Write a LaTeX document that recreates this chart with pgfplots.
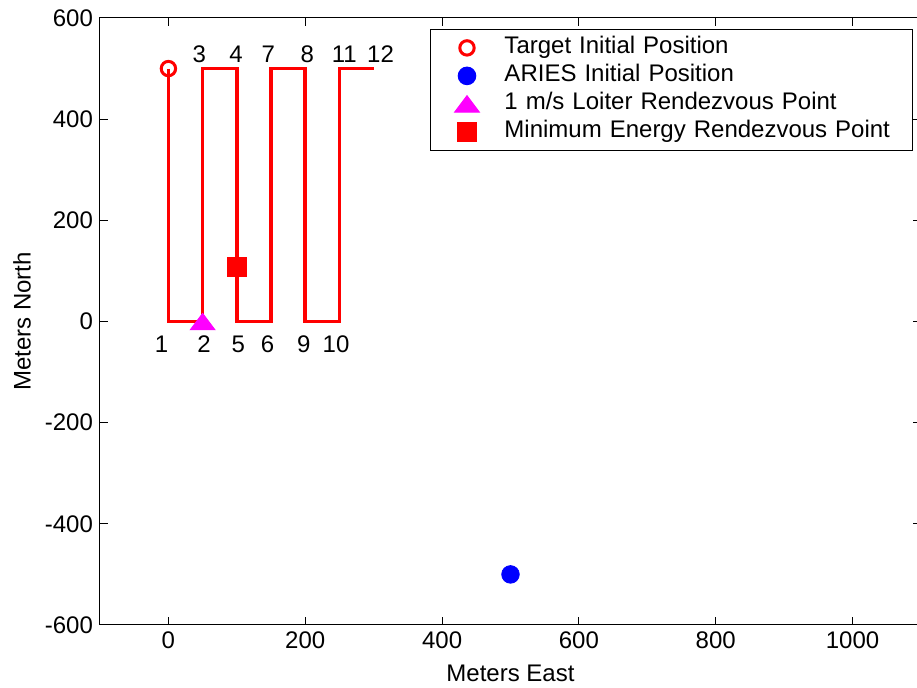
\documentclass[border=0pt]{standalone}
\usepackage{fontspec}
\setmainfont{Liberation Sans}
\usepackage{pgfplots}
\pgfplotsset{compat=1.18}
\definecolor{mred}{RGB}{255,0,0}
\definecolor{mblue}{RGB}{0,0,255}
\definecolor{mmag}{RGB}{255,0,255}
\begin{document}
\begin{tikzpicture}[font=\fontsize{12pt}{14pt}\selectfont]
\begin{axis}[
  scale only axis, width=410.5pt, height=303.5pt,
  xmin=-100, xmax=1100, ymin=-600, ymax=600,
  xtick={0,200,400,600,800,1000}, ytick={-600,-400,-200,0,200,400,600},
  tick align=inside, major tick length=4pt,
  xtick pos=both, ytick pos=both,
  xticklabel pos=bottom, yticklabel pos=left,
  /pgf/number format/assume math mode=true,
  /pgf/number format/1000 sep={},
  scaled ticks=false,
  axis line style={black, line width=0.5pt},
  every tick/.style={black, line width=0.5pt},
  xlabel={Meters East}, ylabel={Meters North},
  xlabel style={at={(axis description cs:0.5,-0.079)}, anchor=center},
  ylabel style={at={(axis description cs:-0.095,0.5)}, anchor=center},
  legend style={at={(rel axis cs:1,1)}, anchor=north east, xshift=-4pt, yshift=-5.5pt,
    draw=black, line width=0.5pt, fill=white, inner xsep=0pt, inner ysep=2.2pt,
    row sep=0pt, column sep=0pt,
    nodes={inner xsep=0pt, inner ysep=1pt, text height=9pt, text depth=3pt},
    /tikz/every even column/.append style={text width=204pt, align=left}},
  legend cell align=left,
  legend image code/.code={\path (0pt,0pt) (36.5pt,0pt); \draw[#1] plot coordinates {(18pt,0pt)};},
]
\addplot[mred, line width=1.8pt, forget plot] coordinates {
(0,500) (0,0) (50,0) (50,500) (100,500) (100,0) (150,0) (150,500)
(200,500) (200,0) (250,0) (250,500) (300,500)};
\addplot[only marks, mark=o, mark size=3.6pt, mark options={draw=mred, line width=1.5pt}] coordinates {(0,500)};
\addlegendentry{Target Initial Position}
\addplot[only marks, mark=*, mark size=4.4pt, mark options={draw=mblue, fill=mblue}] coordinates {(500,-500)};
\addlegendentry{ARIES Initial Position}
\addplot[only marks, mark=triangle*, mark size=5.5pt, mark options={draw=mmag, fill=mmag, xscale=1.3, yshift=-1.4pt}] coordinates {(50,0)};
\addlegendentry{1 m/s Loiter Rendezvous Point}
\addplot[only marks, mark=square*, mark size=4.6pt, mark options={draw=mred, fill=mred}] coordinates {(100,108)};
\addlegendentry{Minimum Energy Rendezvous Point}
\node at (axis cs:-10,-45) {1};
\node at (axis cs:52,-45) {2};
\node at (axis cs:102,-45) {5};
\node at (axis cs:145,-45) {6};
\node at (axis cs:198,-45) {9};
\node at (axis cs:245,-45) {10};
\node at (axis cs:45,529) {3};
\node at (axis cs:99,529) {4};
\node at (axis cs:146,529) {7};
\node at (axis cs:203,529) {8};
\node at (axis cs:257,529) {11};
\node at (axis cs:310,529) {12};
\end{axis}
\pgfresetboundingbox
\path ([shift={(-50pt,-31.5pt)}]current axis.south west) rectangle ([shift={(-2pt,9pt)}]current axis.north east);
\end{tikzpicture}
\end{document}
